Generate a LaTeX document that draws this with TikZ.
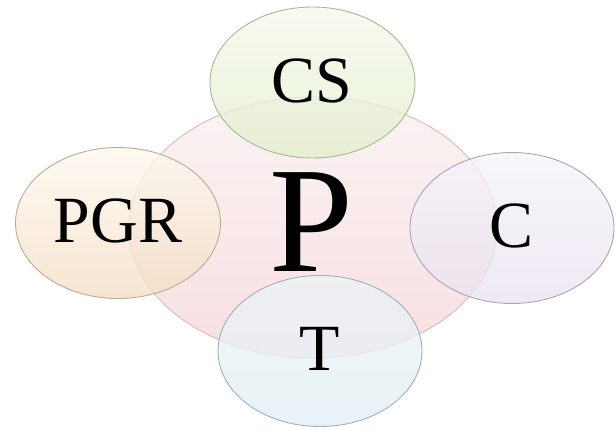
\documentclass[tikz,border=0pt]{standalone}
\usepackage{fontspec}
\setmainfont{Liberation Serif}
\usetikzlibrary{shapes.geometric}
\tikzset{
  blob/.style={ellipse, inner sep=0pt, line width=0.9pt},
  lbl/.style={font=\fontsize{66}{66}\selectfont, inner sep=0pt, text=black},
}
\begin{document}
\begin{tikzpicture}[x=1pt,y=-1pt]
\useasboundingbox (0,0) rectangle (616,429);
% central ellipse
\node[blob, minimum width=368pt, minimum height=261pt,
      top color={rgb,255:red,250;green,243;blue,243},
      bottom color={rgb,255:red,248;green,223;blue,226},
      draw={rgb,255:red,218;green,186;blue,188}] (P) at (313,227.5) {};
% satellites
\node[blob, minimum width=205pt, minimum height=151pt, fill opacity=0.78,
      top color={rgb,255:red,244;green,249;blue,236},
      bottom color={rgb,255:red,226;green,238;blue,204},
      draw={rgb,255:red,168;green,182;blue,152}] (CS) at (312.5,82.5) {};
\node[blob, minimum width=205pt, minimum height=151pt, fill opacity=0.78,
      top color={rgb,255:red,252;green,248;blue,238},
      bottom color={rgb,255:red,245;green,222;blue,196},
      draw={rgb,255:red,184;green,171;blue,152}] (PGR) at (118,223) {};
\node[blob, minimum width=204pt, minimum height=151pt, fill opacity=0.78,
      top color={rgb,255:red,245;green,244;blue,248},
      bottom color={rgb,255:red,234;green,226;blue,240},
      draw={rgb,255:red,170;green,164;blue,180}] (C) at (512,228) {};
\node[blob, minimum width=204pt, minimum height=151pt, fill opacity=0.78,
      top color={rgb,255:red,238;green,243;blue,246},
      bottom color={rgb,255:red,226;green,239;blue,245},
      draw={rgb,255:red,158;green,176;blue,184}] (T) at (320,351) {};
% labels
\node[lbl] (tCS) at (312,81) {CS};
\node[lbl] (tPGR) at (118,221) {PGR};
\node[lbl] (tC) at (512,226) {C};
\node[lbl] (tT) at (320,349) {T};
\node[inner sep=0pt, font=\fontsize{151}{151}\selectfont] (tP) at (311,222) {P};
\end{tikzpicture}
\end{document}
